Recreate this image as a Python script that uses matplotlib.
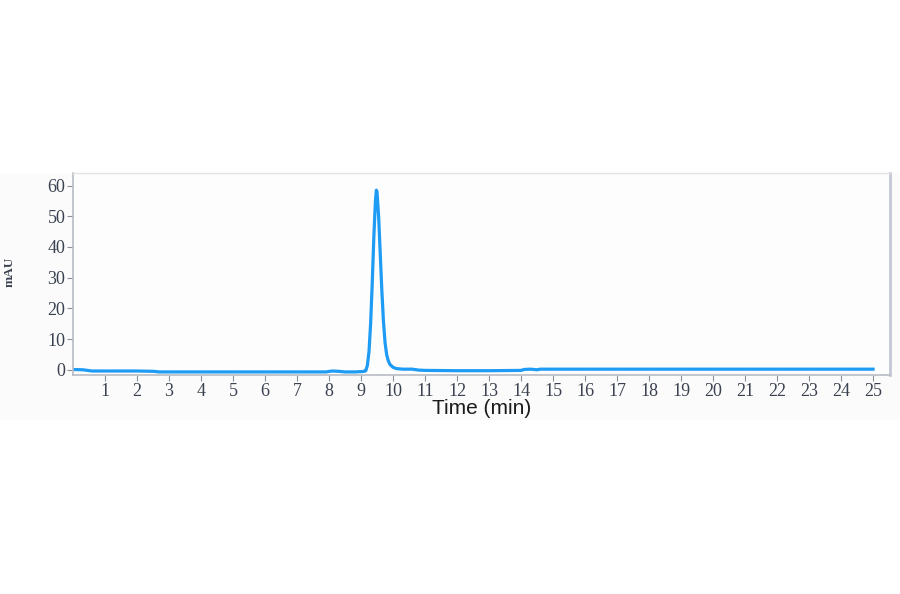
import matplotlib
matplotlib.use("Agg")
import matplotlib.pyplot as plt
from matplotlib.patches import Rectangle

# Chromatogram data (time in min, absorbance in mAU)
time_min = [0.0, 0.3, 0.6, 1.0, 2.0, 2.5, 2.7, 3.0, 4.0, 5.0, 6.0, 7.0, 7.9, 8.1, 8.3, 8.5, 8.8,
            9.0, 9.1, 9.15, 9.2, 9.25, 9.3, 9.35, 9.4, 9.45, 9.48, 9.5, 9.55, 9.6, 9.65,
            9.7, 9.75, 9.8, 9.85, 9.9, 10.0, 10.1, 10.3, 10.6, 10.8, 11.0, 12.0, 13.0,
            14.0, 14.1, 14.3, 14.5, 14.6, 15.0, 20.0, 25.0]
absorb_mau = [0.1, 0.0, -0.4, -0.4, -0.4, -0.5, -0.7, -0.7, -0.7, -0.7, -0.7, -0.7, -0.7, -0.4, -0.5, -0.7, -0.7,
              -0.6, -0.5, -0.3, 1.5, 6.0, 15.0, 28.0, 43.0, 55.0, 58.5, 58.0, 50.0, 38.0, 26.0,
              16.0, 9.0, 5.0, 3.0, 1.8, 0.8, 0.4, 0.2, 0.2, -0.1, -0.2, -0.3, -0.3,
              -0.2, 0.1, 0.2, 0.0, 0.2, 0.2, 0.2, 0.2]

x_ticks = list(range(1, 26))
y_ticks = [0, 10, 20, 30, 40, 50, 60]

fig = plt.figure(figsize=(9, 5.94), dpi=100)
fig.patch.set_facecolor("white")
# light band behind chart region
fig.add_artist(Rectangle((0, (594 - 420) / 594), 1, (420 - 173) / 594,
                         transform=fig.transFigure, facecolor="#fbfbfb",
                         edgecolor="none", zorder=0))

ax = fig.add_axes([73 / 900, (594 - 375) / 594, 817 / 900, 202 / 594])
ax.set_facecolor("#fdfdfd")
ax.plot(time_min, absorb_mau, color="#1E9BF5", linewidth=2.3, solid_joinstyle="round")

ax.set_xlim(0, 25.53)
ax.set_ylim(-1.7, 64.1)
ax.set_xticks(x_ticks)
ax.set_xticklabels([str(t) for t in x_ticks])
ax.set_yticks(y_ticks)
ax.set_yticklabels([str(t) for t in y_ticks])

label_color = "#3a4150"
for lab in ax.get_xticklabels() + ax.get_yticklabels():
    lab.set_fontfamily("Liberation Serif")
    lab.set_fontsize(13)
    lab.set_color(label_color)
ax.tick_params(axis="both", length=4, width=0.8, color="#8a8f99", pad=1.5)

for side in ["left", "bottom"]:
    ax.spines[side].set_color("#b8bcc4")
    ax.spines[side].set_linewidth(1.2)
ax.spines["top"].set_color("#e2e2e2")
ax.spines["top"].set_linewidth(1.0)
ax.spines["right"].set_color("#c4c8d4")
ax.spines["right"].set_linewidth(2.0)

fig.text(482 / 900, 1 - 408 / 594, "Time (min)", ha="center", va="center",
         fontsize=15, color="#1a1a1a", family="Liberation Sans")
fig.text(10 / 900, 1 - 272 / 594, "mAU", ha="center", va="center", rotation=90,
         fontsize=9.5, color="#3a4150", family="Liberation Serif", weight="bold")

fig.savefig("out.png", dpi=100, facecolor=fig.get_facecolor())
